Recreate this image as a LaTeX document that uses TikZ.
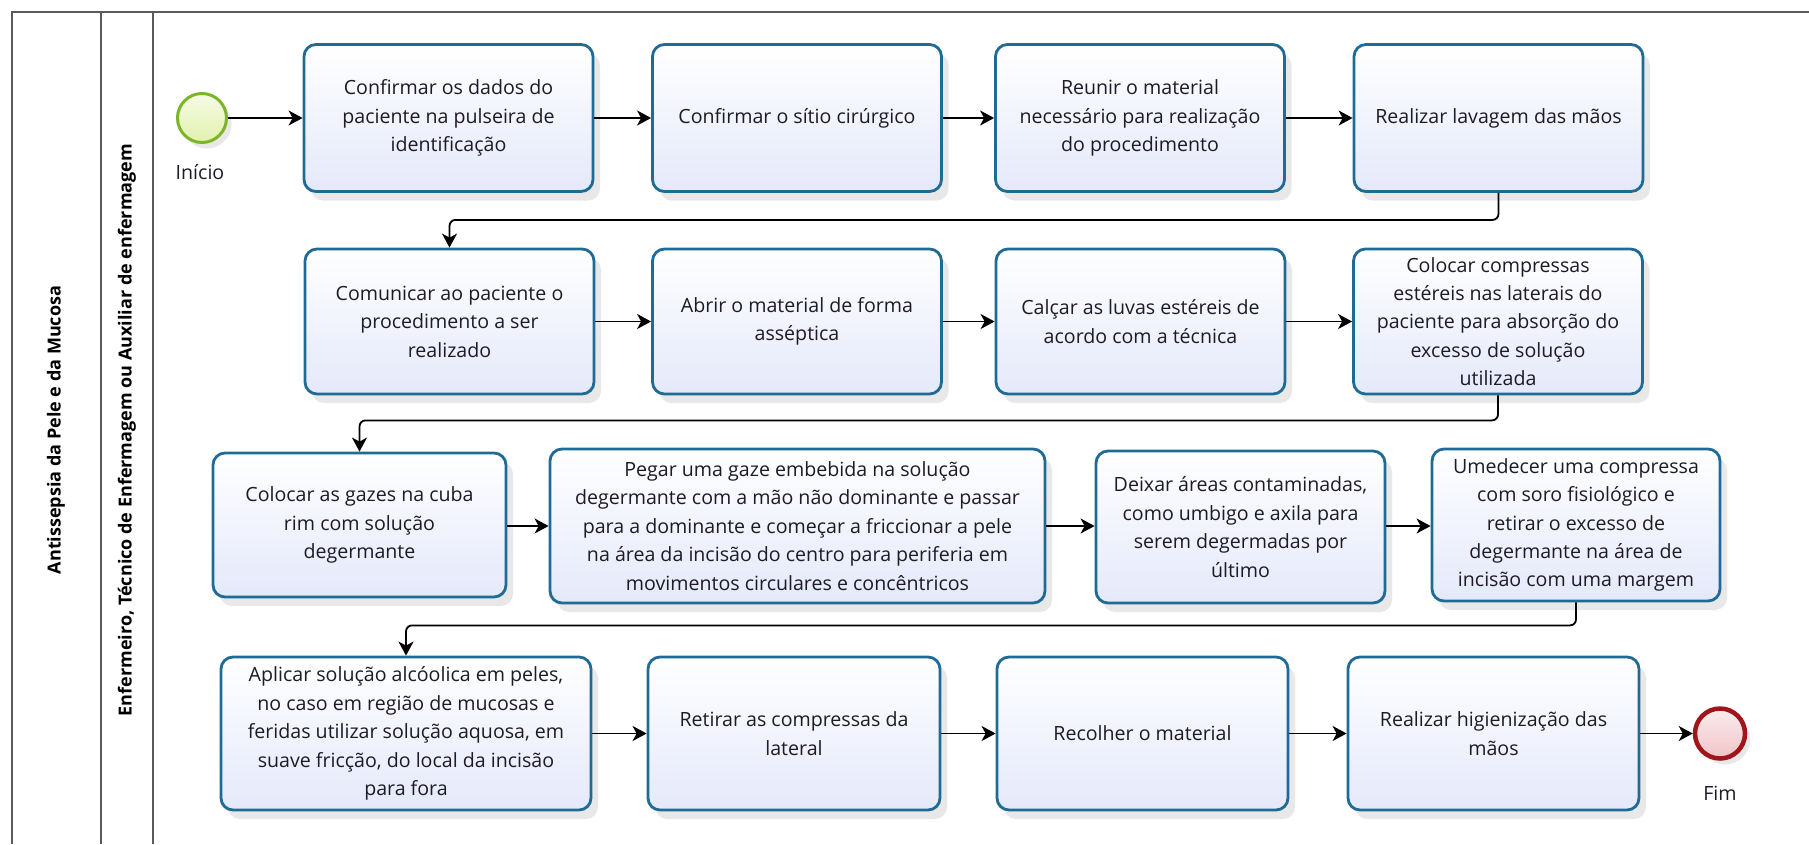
\documentclass[tikz,border=0pt]{standalone}
\usepackage{fontspec}
\setmainfont{Open Sans}
\usetikzlibrary{arrows.meta,shadows}

\definecolor{taskline}{HTML}{1F6B96}
\definecolor{taskfill}{HTML}{E4E9FA}
\definecolor{startline}{HTML}{7DB52A}
\definecolor{startfill}{HTML}{E2F1AE}
\definecolor{endline}{HTML}{A0141C}
\definecolor{endfill}{HTML}{F0C3C7}
\definecolor{poolline}{HTML}{5A5A5A}
\definecolor{tasktext}{HTML}{1E1A26}

\newcommand{\taskfont}{\fontsize{19.6}{28.4}\selectfont}
\newcommand{\lanefont}{\fontsize{18}{22}\selectfont\bfseries}

\tikzset{
	task/.style={rectangle, rounded corners=12pt, draw=taskline, line width=2.8pt,
		top color=white, bottom color=taskfill, align=center, inner sep=0pt,
		minimum width=289pt, minimum height=147pt, font=\taskfont, text=tasktext,
		drop shadow={shadow xshift=7pt, shadow yshift=-9pt, fill=black!60, opacity=0.15}},
	startev/.style={circle, draw=startline, line width=3pt, inner sep=0pt, minimum size=49pt,
		top color=white!70!startfill, bottom color=startfill,
		drop shadow={shadow xshift=5pt, shadow yshift=-6pt, fill=black!60, opacity=0.15}},
	endev/.style={circle, draw=endline, line width=4.5pt, inner sep=0pt, minimum size=50pt,
		top color=white!70!endfill, bottom color=endfill,
		drop shadow={shadow xshift=5pt, shadow yshift=-6pt, fill=black!60, opacity=0.15}},
	evlabel/.style={font=\taskfont, text=tasktext},
	flow/.style={line width=1.8pt, rounded corners=6pt, -{Stealth[length=14pt, width=15pt, inset=4pt]}},
	pool/.style={draw=poolline, line width=1.5pt},
	lanetext/.style={font=\lanefont, rotate=90}
}

\begin{document}
\begin{tikzpicture}[x=1pt, y=-1pt]
	%%%%% START %%%%%
	\useasboundingbox (0,0) rectangle (1809,844);
	
	\draw[pool] (12,844) -- (12,12) -- (1809,12);
	\draw[pool] (101,12) -- (101,844);
	\draw[pool] (153,12) -- (153,844);
	
	\node[lanetext] (poolname) at (56,430) {Antissepsia da Pele e da Mucosa};
	\node[lanetext] (lanename) at (127,430) {Enfermeiro, Técnico de Enfermagem ou Auxiliar de enfermagem};
	
	\node[startev] (inicio) at (202,118) {};
	\node[evlabel] (iniciolbl) at (200,172) {Início};
	
	\node[task] (b1) at (448.5,118) {Confirmar os dados do\\paciente na pulseira de\\identificação};
	\node[task] (b2) at (797,118) {Confirmar o sítio cirúrgico};
	\node[task] (b3) at (1140,118) {Reunir o material\\necessário para realização\\do procedimento};
	\node[task] (b4) at (1498.5,118) {Realizar lavagem das mãos};
	
	\node[task, minimum height=145pt] (b5) at (449.5,321.5) {Comunicar ao paciente o\\procedimento a ser\\realizado};
	\node[task, minimum height=145pt] (b6) at (797,321.5) {Abrir o material de forma\\asséptica};
	\node[task, minimum height=145pt] (b7) at (1140.5,321.5) {Calçar as luvas estéreis de\\acordo com a técnica};
	\node[task, minimum height=145pt] (b8) at (1498,321.5) {Colocar compressas\\estéreis nas laterais do\\paciente para absorção do\\excesso de solução\\utilizada};
	
	\node[task, minimum width=293pt, minimum height=144pt] (b9) at (359.5,525) {Colocar as gazes na cuba\\rim com solução\\degermante};
	\node[task, minimum width=495pt, minimum height=154pt] (b10) at (797.5,526) {Pegar uma gaze embebida na solução\\degermante com a mão não dominante e passar\\para a dominante e começar a friccionar a pele\\na área da incisão do centro para periferia em\\movimentos circulares e concêntricos};
	\node[task, minimum height=152pt] (b11) at (1240.5,527) {Deixar áreas contaminadas,\\como umbigo e axila para\\serem degermadas por\\último};
	\node[task, minimum width=288pt, minimum height=152pt] (b12) at (1576,525) {Umedecer uma compressa\\com soro fisiológico e\\retirar o excesso de\\degermante na área de\\incisão com uma margem};
	
	\node[task, minimum width=370pt, minimum height=153pt] (b13) at (406,733.5) {Aplicar solução alcóolica em peles,\\no caso em região de mucosas e\\feridas utilizar solução aquosa, em\\suave fricção, do local da incisão\\para fora};
	\node[task, minimum width=292pt, minimum height=153pt] (b14) at (794,733.5) {Retirar as compressas da\\lateral};
	\node[task, minimum width=291pt, minimum height=153pt] (b15) at (1142.5,733.5) {Recolher o material};
	\node[task, minimum width=291pt, minimum height=153pt] (b16) at (1493.5,733.5) {Realizar higienização das\\mãos};
	
	\node[endev] (fim) at (1720,733.5) {};
	\node[evlabel] (fimlbl) at (1720,793) {Fim};
	
	\draw[flow] (inicio) -- (b1);
	\draw[flow] (b1) -- (b2);
	\draw[flow] (b2) -- (b3);
	\draw[flow] (b3) -- (b4);
	\draw[flow] (b4.south) -- ++(0,27) -| (b5.north);
	
	\draw[flow] (b5) -- (b6);
	\draw[flow] (b6) -- (b7);
	\draw[flow] (b7) -- (b8);
	\draw[flow] (b8.south) -- ++(0,25) -| (b9.north);
	
	\draw[flow] (b9.east |- b10) -- (b10);
	\draw[flow] (b10) -- (b11.west |- b10);
	\draw[flow] (b11.east |- b10) -- (b12.west |- b10);
	\draw[flow] (b12.south) -- ++(0,23) -| (b13.north);
	
	\draw[flow] (b13) -- (b14);
	\draw[flow] (b14) -- (b15);
	\draw[flow] (b15) -- (b16);
	\draw[flow] (b16) -- (fim);
	
	%%%%% END %%%%%
\end{tikzpicture}
\end{document}
